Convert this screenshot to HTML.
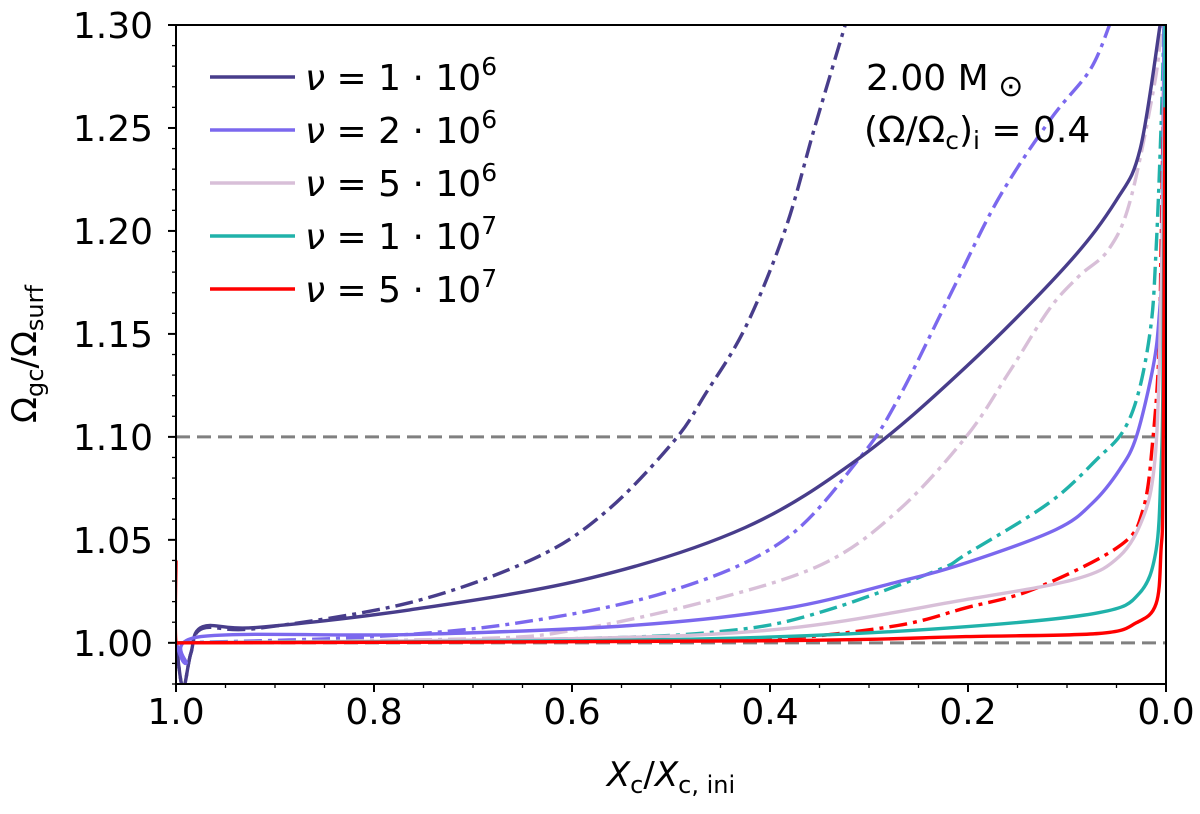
<!DOCTYPE html>
<html><head><meta charset="utf-8"><style>
body{margin:0;background:#fff}
svg{font-family:"DejaVu Sans","Liberation Sans",sans-serif}
</style></head><body>
<svg id="chart" width="1200" height="809" viewBox="0 0 1200 809" xmlns="http://www.w3.org/2000/svg">
<defs><clipPath id="clip"><rect x="176" y="25" width="990" height="659"/></clipPath></defs>
<g id="grid"></g>
<g id="series" clip-path="url(#clip)"></g>
<rect x="176" y="25" width="990" height="659" fill="none" stroke="#000" stroke-width="2"/>
<g id="axes"></g>
<text x="0" y="0" transform="translate(36,354) rotate(-90)" text-anchor="middle" font-size="34">Ω<tspan font-size="24" dy="7">gc</tspan><tspan dy="-7">/Ω</tspan><tspan font-size="24" dy="7">surf</tspan></text>
<text x="671" y="786" text-anchor="middle" font-size="34"><tspan font-style="italic">X</tspan><tspan font-size="24" dy="7">c</tspan><tspan dy="-7">/</tspan><tspan font-style="italic">X</tspan><tspan font-size="24" dy="7">c, ini</tspan></text>
<g id="legend"></g>
<text x="866" y="90" font-size="36">2.00 M<tspan font-size="30" dy="6"> ⊙</tspan></text>
<text x="864" y="142" font-size="36">(Ω/Ω<tspan font-size="25" dy="7">c</tspan><tspan dy="-7">)</tspan><tspan font-size="25" dy="7">i</tspan><tspan dy="-7"> = 0.4</tspan></text>
</svg>
<script>
const yTicks=[1.00,1.05,1.10,1.15,1.20,1.25,1.30];
const xTicks=[1.0,0.8,0.6,0.4,0.2,0.0];
const refLines=[1.10,1.00];
const legendLabels=["1 · 10","2 · 10","5 · 10","1 · 10","5 · 10"];
const legendExp=["6","6","6","7","7"];
const colors=["#483d8b","#7b68ee","#d8bfd8","#20b2aa","#ff0000"];
const s1x=[1.0,0.993,0.985,0.973,0.918,0.764,0.58,0.425,0.309,0.202,0.101,0.05,0.026,0.006];
const s1y=[1.0,0.978,0.995,1.0078,1.0075,1.016,1.0316,1.056,1.090,1.134,1.183,1.215,1.24,1.30];
const d1x=[1.0,0.993,0.985,0.973,0.918,0.764,0.638,0.565,0.497,0.465,0.425,0.385,0.355,0.324];
const d1y=[1.0,0.978,0.995,1.007,1.007,1.0195,1.041,1.064,1.098,1.121,1.153,1.20,1.25,1.30];
const s2x=[1.0,0.99,0.975,0.764,0.541,0.387,0.271,0.202,0.111,0.074,0.047,0.030,0.013,0.007,0.004,0.002];
const s2y=[1.0,0.99,1.003,1.004,1.0084,1.0165,1.0296,1.0388,1.055,1.068,1.084,1.10,1.134,1.158,1.19,1.30];
const d2x=[1,0.8,0.65,0.503,0.387,0.309,0.271,0.22,0.17,0.117,0.077,0.057];
const d2y=[1.0,1.003,1.01,1.0248,1.0495,1.09,1.118,1.167,1.215,1.254,1.278,1.30];
const s3x=[1,0.6,0.387,0.202,0.091,0.047,0.023,0.012,0.007,0.003,0.001];
const s3y=[1.0,1.002,1.0068,1.021,1.031,1.042,1.061,1.085,1.13,1.215,1.30];
const d3x=[1,0.7,0.6,0.465,0.348,0.271,0.202,0.159,0.118,0.088,0.058,0.036,0.011,0.005];
const d3y=[1.0,1.002,1.006,1.020,1.038,1.064,1.10,1.131,1.162,1.178,1.191,1.215,1.273,1.30];
const s4x=[1,0.6,0.387,0.202,0.068,0.027,0.010,0.005,0.003,0.001];
const s4y=[1.0,1.001,1.003,1.0078,1.0146,1.024,1.045,1.085,1.13,1.30];
const d4x=[1,0.6,0.44,0.348,0.232,0.202,0.118,0.068,0.043,0.027,0.015,0.010,0.005,0.002];
const d4y=[1.0,1.002,1.006,1.015,1.035,1.043,1.068,1.090,1.103,1.123,1.155,1.191,1.25,1.30];
const s5x=[1.0,1.0,0.99,0.4,0.202,0.068,0.030,0.010,0.005,0.003,0.001];
const s5y=[1.04,1.0,1.0,1.001,1.003,1.0045,1.0097,1.019,1.045,1.08,1.26];
const d5x=[1,0.5,0.387,0.271,0.202,0.134,0.047,0.023,0.013,0.007,0.005,0.002];
const d5y=[1.0,1.001,1.002,1.0084,1.017,1.026,1.047,1.065,1.10,1.142,1.19,1.28];

const NS="http://www.w3.org/2000/svg";
const X0=176,X1=1166,Y0=684,Y1=25,ymin=0.98,ymax=1.30;
function sx(v){return X1-(v)*(X1-X0);}
function sy(v){return Y0-(v-ymin)/(ymax-ymin)*(Y0-Y1);}
function mk(tag,attrs,parent){const e=document.createElementNS(NS,tag);for(const k in attrs)e.setAttribute(k,attrs[k]);parent.appendChild(e);return e;}
const axes=document.getElementById('axes');
for(let i=0;i<=32;i++){const v=0.98+i*0.01;if(v>1.3001)break;const y=sy(v);const r=Math.round(v*100)%5;const major=r===0;
 const t=mk('line',{x1:X0,x2:X0-(major?8:4),y1:y,y2:y,stroke:'#000','stroke-width':major?2:1.3},axes);
 
 }
yTicks.forEach(v=>{const t=mk('text',{x:153,y:sy(v)+13,'text-anchor':'end','font-size':36},axes);t.textContent=v.toFixed(2);
 
 });
for(let i=0;i<=20;i++){const v=i*0.05;const x=sx(v);const major=i%4===0;
 const t=mk('line',{x1:x,x2:x,y1:Y0,y2:Y0+(major?8:4),stroke:'#000','stroke-width':major?2:1.3},axes);
 
 }
xTicks.forEach(v=>{const t=mk('text',{x:sx(v),y:724,'text-anchor':'middle','font-size':36},axes);t.textContent=v.toFixed(1);
 
 });
const grid=document.getElementById('grid');
refLines.forEach(v=>{const l=mk('line',{x1:X0,x2:X1,y1:sy(v),y2:sy(v),stroke:'#808080','stroke-width':3,'stroke-dasharray':'14,7'},grid);
 
 });
function pathFrom(xs,ys){const p=xs.map((x,i)=>[sx(x),sy(ys[i])]);let d='M'+p[0][0]+','+p[0][1];
 for(let i=0;i<p.length-1;i++){const a=p[Math.max(0,i-1)],b=p[i],c=p[i+1],e=p[Math.min(p.length-1,i+2)];
  const c1=[b[0]+(c[0]-a[0])/6,b[1]+(c[1]-a[1])/6],c2=[c[0]-(e[0]-b[0])/6,c[1]-(e[1]-b[1])/6];
  d+=' C'+c1[0].toFixed(1)+','+c1[1].toFixed(1)+' '+c2[0].toFixed(1)+','+c2[1].toFixed(1)+' '+c[0].toFixed(1)+','+c[1].toFixed(1);}
 return d;}
const series=document.getElementById('series');
const all=[[d1x,d1y,0,true],[d2x,d2y,1,true],[d3x,d3y,2,true],[d4x,d4y,3,true],[d5x,d5y,4,true],
 [s1x,s1y,0,false],[s2x,s2y,1,false],[s3x,s3y,2,false],[s4x,s4y,3,false],[s5x,s5y,4,false]];
all.forEach(([xs,ys,ci,dd])=>{const p=mk('path',{d:pathFrom(xs,ys),fill:'none',stroke:colors[ci],'stroke-width':3.4},series);
 if(dd)p.setAttribute('stroke-dasharray','18,6,4,6');
 
 });
const leg=document.getElementById('legend');
legendLabels.forEach((lab,i)=>{const y=77+i*53;
 const l=mk('line',{x1:210,x2:295,y1:y,y2:y,stroke:colors[i],'stroke-width':3.5},leg);
 
 
 const t=mk('text',{x:305,y:y+13,'font-size':36},leg);
 t.innerHTML='<tspan font-style="italic">ν</tspan> = '+lab+'<tspan font-size="25" dy="-15">'+legendExp[i]+'</tspan>';
 
 });
</script>
</body></html>
